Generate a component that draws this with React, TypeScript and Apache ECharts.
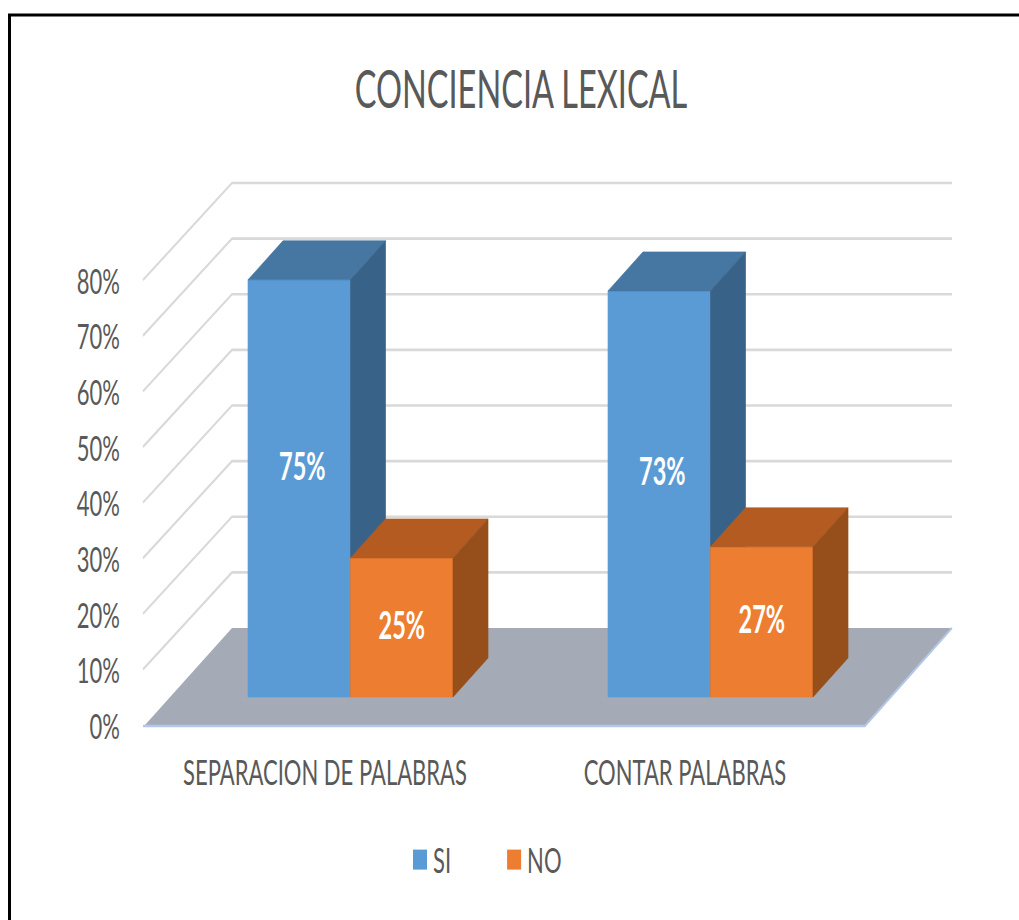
import React, { useEffect, useRef } from "react";
import * as echarts from "echarts";

const categories = ["SEPARACION DE PALABRAS", "CONTAR PALABRAS"];
const siValues = [75, 73];
const noValues = [25, 27];
const yTicks = [10, 20, 30, 40, 50, 60, 70, 80];

// The reference is a picture stretched vertically: the chart is drawn shorter and scaled by K.
const K = 1.6;
const FONT = 'Lato, "Open Sans", sans-serif';
const TEXT = "#595959";
const GRID = { left: 145, top: 280 / K, width: 720, height: 445 / K };
const BACK = { dx: 87, dy: -97 / K };
const DEPTH = { dx: 35, dy: -39 / K };
const BAR = { w: 102.5, shiftX: 25.5, shiftY: -28 / K };

function poly(points: number[][], fill: string) {
  return { type: "polygon", shape: { points }, style: { fill, stroke: fill, lineWidth: 0.5 } };
}

function barSeries(name: string, values: number[], side: -1 | 0, front: string, top: string, dark: string, labelShift: number) {
  return {
    type: "custom",
    name,
    silent: true,
    clip: false,
    z: 4,
    itemStyle: { color: front },
    encode: { x: 0, y: 1 },
    data: values.map((v, i) => [i, v]),
    renderItem: (_p: any, api: any) => {
      const i = api.value(0);
      const v = api.value(1);
      const [cx, yTop0] = api.coord([i, v]);
      const [, yBase0] = api.coord([i, 0]);
      const x0 = cx + BAR.shiftX + (side === -1 ? -BAR.w : 0);
      const x1 = x0 + BAR.w;
      const yTop = yTop0 + BAR.shiftY;
      const yBase = yBase0 + BAR.shiftY;
      return {
        type: "group",
        children: [
          poly([[x0, yBase], [x1, yBase], [x1, yTop], [x0, yTop]], front),
          poly([[x0, yTop], [x1, yTop], [x1 + DEPTH.dx, yTop + DEPTH.dy], [x0 + DEPTH.dx, yTop + DEPTH.dy]], top),
          poly([[x1, yBase], [x1 + DEPTH.dx, yBase + DEPTH.dy], [x1 + DEPTH.dx, yTop + DEPTH.dy], [x1, yTop]], dark),
          {
            type: "text",
            x: (x0 + x1) / 2 + (side === -1 ? 3 : 0),
            y: (yTop + yBase) / 2 + labelShift / K,
            style: { text: `${v}%`, fill: "#ffffff", font: `bold 23.5px ${FONT}`, align: "center", verticalAlign: "middle" },
          },
        ],
      };
    },
  };
}

export default function App() {
  const ref = useRef<HTMLDivElement>(null);
  useEffect(() => {
    document.body.style.margin = "0";
    document.body.style.overflow = "hidden";
    const chart = echarts.init(ref.current!, undefined, { renderer: "svg" });
    chart.setOption({
      animation: false,
      backgroundColor: "#ffffff",
      title: {
        text: "CONCIENCIA LEXICAL",
        left: 516,
        top: 33,
        textAlign: "center",
        textStyle: { color: TEXT, fontFamily: FONT, fontWeight: "normal", fontSize: 32.5 },
      },
      legend: {
        data: ["SI", "NO"],
        left: 413,
        top: 842 / K,
        padding: 0,
        icon: "rect",
        itemWidth: 14,
        itemHeight: 20 / K,
        itemGap: 56,
        textStyle: { color: TEXT, fontFamily: FONT, fontSize: 22, padding: [0, 0, 0, 1] },
      },
      grid: { ...GRID, containLabel: false },
      xAxis: {
        type: "category",
        data: categories,
        axisLine: { show: false },
        axisTick: { show: false },
        axisLabel: { color: TEXT, fontFamily: FONT, fontSize: 22, margin: 18, interval: 0 },
      },
      yAxis: {
        type: "value",
        min: 0,
        max: 80,
        interval: 10,
        axisLine: { show: false },
        axisTick: { show: false },
        splitLine: { show: false },
        axisLabel: { color: TEXT, fontFamily: FONT, fontSize: 22, margin: 25, formatter: "{value}%" },
      },
      graphic: [
        { type: "line", shape: { x1: 9.5, y1: 15 / K, x2: 9.5, y2: 920 / K }, style: { stroke: "#000000", lineWidth: 3 } },
        { type: "line", shape: { x1: 8, y1: 15 / K, x2: 1019, y2: 15 / K }, style: { stroke: "#000000", lineWidth: 3 / K } },
      ],
      series: [
        {
          type: "custom",
          name: "grid",
          silent: true,
          clip: false,
          z: 1,
          encode: { x: 0, y: 1 },
          data: yTicks.map((v) => [0, v]),
          renderItem: (p: any, api: any) => {
            const sys = p.coordSys;
            const [, y] = api.coord([0, api.value(1)]);
            return {
              type: "polyline",
              shape: {
                points: [
                  [sys.x - 2, y],
                  [sys.x + BACK.dx, y + BACK.dy],
                  [sys.x + sys.width + BACK.dx, y + BACK.dy],
                ],
              },
              style: { stroke: "#d9d9d9", lineWidth: 1.6, fill: "none" },
            };
          },
        },
        {
          type: "custom",
          name: "floor",
          silent: true,
          clip: false,
          z: 2,
          encode: { x: 0, y: 1 },
          data: [[0, 0]],
          renderItem: (p: any, api: any) => {
            const sys = p.coordSys;
            const [, y] = api.coord([0, 0]);
            const xl = sys.x;
            const xr = sys.x + sys.width;
            return {
              type: "group",
              children: [
                {
                  type: "polygon",
                  shape: { points: [[xl, y], [xr, y], [xr + BACK.dx, y + BACK.dy], [xl + BACK.dx, y + BACK.dy]] },
                  style: { fill: "#a5abb6" },
                },
                {
                  type: "polyline",
                  shape: { points: [[xl - 2, y + 0.6], [xr, y + 0.6], [xr + BACK.dx, y + BACK.dy]] },
                  style: { stroke: "#b4c7e7", lineWidth: 1.6, fill: "none" },
                },
              ],
            };
          },
        },
        barSeries("SI", siValues, -1, "#5b9bd5", "#4676a2", "#386287", -23),
        barSeries("NO", noValues, 0, "#ed7d31", "#b35b21", "#964f1b", -3),
      ],
    });
    return () => chart.dispose();
  }, []);
  return (
    <div
      ref={ref}
      style={{
        position: "absolute",
        left: 0,
        top: 0,
        width: 1019,
        height: 920 / K,
        transform: `scale(1, ${K})`,
        transformOrigin: "0 0",
      }}
    />
  );
}
